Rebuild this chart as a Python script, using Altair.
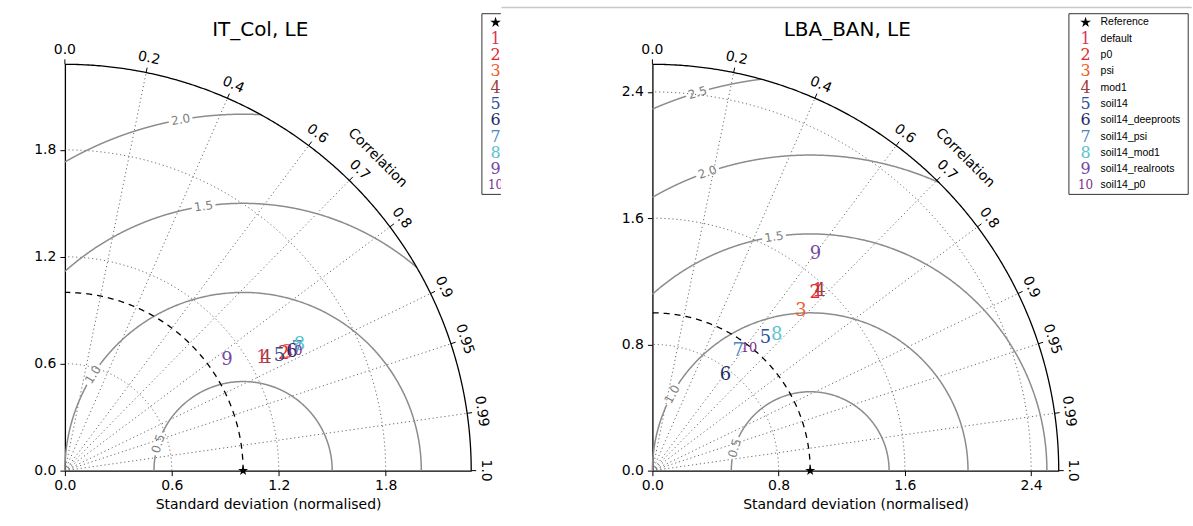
import numpy as np
import pandas as pd
import altair as alt

# ---------------- data ----------------
model_ids = ["1", "2", "3", "4", "5", "6", "7", "8", "9", "10"]
model_names = ["default", "p0", "psi", "mod1", "soil14", "soil14_deeproots",
               "soil14_psi", "soil14_mod1", "soil14_realroots", "soil14_p0"]
model_colors = ["#d7385a", "#e3262b", "#f05a2a", "#a0403c", "#2f4f9f",
                "#1c2a66", "#4a86c5", "#5cc4cc", "#74479f", "#7b2f8d"]

# normalised standard deviation and correlation of each run
itcol_std = [1.272, 1.390, 1.412, 1.292, 1.365, 1.438, 1.472, 1.494, 1.101, 1.452]
itcol_corr = [0.869, 0.883, 0.884, 0.873, 0.882, 0.886, 0.886, 0.881, 0.826, 0.886]
lba_std = [1.550, 1.527, 1.383, 1.556, 1.104, 0.764, 0.934, 1.167, 1.717, 0.991]
lba_corr = [0.677, 0.676, 0.681, 0.683, 0.649, 0.606, 0.583, 0.675, 0.602, 0.617]

corr_ticks = [0.0, 0.2, 0.4, 0.6, 0.7, 0.8, 0.9, 0.95, 0.99, 1.0]
corr_tick_labels = ["0.0", "0.2", "0.4", "0.6", "0.7", "0.8", "0.9", "0.95", "0.99", "1.0"]

itcol_std_ticks = [0.0, 0.6, 1.2, 1.8]
lba_std_ticks = [0.0, 0.8, 1.6, 2.4]
itcol_smax = 2.28
lba_smax = 2.575

itcol_rms_levels = [0.5, 1.0, 1.5, 2.0]
itcol_rms_label_angle = [162.4, 147.4, 98.5, 100.1]
lba_rms_levels = [0.5, 1.0, 1.5, 2.0, 2.5]
lba_rms_label_angle = [163.5, 151.0, 98.8, 109.0, 106.6]

legend_names = ["Reference"] + model_names

# ---------------- layout / style ----------------
VIEW = 407
L_X0, TOP = 64.3, 63.0
R_X0 = 652.8
FONT = "DejaVu Sans"
SERIF = "DejaVu Serif"
LEG_FONT = "Liberation Sans"

# five-pointed star as a custom symbol path (unit box -1..1)
_star_pts = []
for _i in range(10):
    _a = np.radians(-90 + 36 * _i)
    _r = 1.0 if _i % 2 == 0 else 0.382
    _star_pts.append(f"{_r * np.cos(_a):.4f},{_r * np.sin(_a):.4f}")
STAR_PATH = "M" + "L".join(_star_pts) + "Z"


def panel(title, title_cx, smax, std_ticks, std, corr, rms_levels, rms_angles, x0, full_legend):
    k = VIEW / smax  # pixels per unit

    def dx(px):  # page pixel -> data x of this panel
        return (px - x0) / k

    def dy(py):  # page pixel -> data y of this panel
        return (TOP + VIEW - py) / k

    xsc = alt.Scale(domain=[0, smax], nice=False, zero=False)
    ysc = alt.Scale(domain=[0, smax], nice=False, zero=False)
    common = dict(values=std_ticks, format=".1f", grid=False, labelFont=FONT,
                  labelFontSize=14, labelColor="black", tickColor="black",
                  tickSize=5, tickWidth=1, domainColor="black", domainWidth=1.3,
                  labelOverlap=False, labelFlush=False)
    xax = alt.Axis(title="Standard deviation (normalised)", titleFont=FONT,
                   titleFontSize=14, titleFontWeight="normal", titleColor="black",
                   titlePadding=5, labelPadding=3, **common)
    yax = alt.Axis(title=None, labelPadding=4, **common)

    def X(f="x"):
        return alt.X(f"{f}:Q", scale=xsc, axis=xax)

    def Y(f="y"):
        return alt.Y(f"{f}:Q", scale=ysc, axis=yax)

    def arc(g, r, n=300):
        t = np.linspace(0, np.pi / 2, n)
        return pd.DataFrame({"g": g, "o": np.arange(n), "x": r * np.cos(t), "y": r * np.sin(t)})

    def lines(df, color, width, dash=None):
        kw = dict(color=color, strokeWidth=width)
        if dash:
            kw["strokeDash"] = dash
        return alt.Chart(df).mark_line(**kw).encode(x=X(), y=Y(), detail="g:N", order="o:Q")

    def label(xv, yv, text, angle, size, color="black", font=FONT, align="center",
              baseline="middle"):
        d = pd.DataFrame({"x": [float(xv)], "y": [float(yv)], "t": [text]})
        return alt.Chart(d).mark_text(font=font, fontSize=size, color=color, align=align,
                                      baseline=baseline,
                                      angle=round(float(angle) % 360, 3)).encode(
            x=X(), y=Y(), text="t:N")

    def rect(px1, px2, py1, py2, **kw):
        d = pd.DataFrame({"x": [dx(px1)], "x2": [dx(px2)], "y": [dy(py1)], "y2": [dy(py2)]})
        return alt.Chart(d).mark_rect(**kw).encode(
            x=X(), x2=alt.X2("x2"), y=Y(), y2=alt.Y2("y2"))

    L = []
    # ---- page decoration ----
    if full_legend:
        L.append(rect(501.0, 600.0, 0.0, 200.0, color="white", opacity=1))
        gl = pd.DataFrame({"x": [dx(501.7)], "x2": [dx(1193.0)], "y": [dy(6.0)]})
        L.append(alt.Chart(gl).mark_rule(color="#c8c8c8", strokeWidth=1.5).encode(
            x=X(), x2=alt.X2("x2"), y=Y()))
    else:
        L.append(rect(0.0, 1.0, 0.0, 1.0, color="white", opacity=1))

    # ---- grids ----
    grid_parts = [arc(f"s{v}", v) for v in std_ticks if 0 < v < smax]
    for c in corr_ticks:
        if 0 < c < 1:
            s = float(np.sqrt(1 - c * c))
            grid_parts.append(pd.DataFrame({"g": f"c{c}", "o": [0, 1],
                                            "x": [0.0, smax * c], "y": [0.0, smax * s]}))
    L.append(lines(pd.concat(grid_parts, ignore_index=True), "#5a5a5a", 0.9, [1.2, 2.8]))

    # ---- centred RMS difference contours ----
    rms_parts = []
    for R, phd in zip(rms_levels, rms_angles):
        cval = (smax ** 2 - 1 - R ** 2) / (2 * R)
        phmin = 0.0 if cval >= 1 else float(np.arccos(max(-1.0, cval)))
        phmax = float(np.pi) if R <= 1 else float(np.arccos(-1.0 / R))
        ph = float(np.radians(phd))
        half = 12.0 / (R * k)
        for j, (a, b) in enumerate([(phmin, ph - half), (ph + half, phmax)]):
            if b > a:
                t = np.linspace(a, b, 300)
                rms_parts.append(pd.DataFrame({"g": f"r{R}_{j}", "o": np.arange(300),
                                               "x": 1 + R * np.cos(t), "y": R * np.sin(t)}))
        L.append(label(1 + R * np.cos(ph), R * np.sin(ph), f"{R:.1f}", 90 - phd, 12,
                       color="#808080"))
    L.append(lines(pd.concat(rms_parts, ignore_index=True), "#8c8c8c", 1.5))

    # ---- reference arc and outer boundary ----
    L.append(lines(arc("ref", 1.0), "black", 1.3, [6, 5]))
    L.append(lines(arc("outer", smax), "black", 1.3))

    # ---- correlation ticks and labels ----
    th = np.arccos(np.array(corr_ticks))
    r_tick = smax + 5.0 / k
    ticks = pd.DataFrame({"x": smax * np.cos(th), "y": smax * np.sin(th),
                          "x2": r_tick * np.cos(th), "y2": r_tick * np.sin(th)})
    L.append(alt.Chart(ticks).mark_rule(color="black", strokeWidth=1).encode(
        x=X(), y=Y(), x2=alt.X2("x2"), y2=alt.Y2("y2")))
    r_lab = smax + 14.5 / k
    for t_, lab in zip(th, corr_tick_labels):
        L.append(label(r_lab * np.cos(t_), r_lab * np.sin(t_), lab, 90 - np.degrees(t_), 14))
    r_ct = smax + 36.0 / k
    L.append(label(r_ct * np.cos(np.pi / 4), r_ct * np.sin(np.pi / 4), "Correlation", 45, 14))

    # ---- reference star and model runs ----
    star = pd.DataFrame({"x": [1.0], "y": [0.0]})
    L.append(alt.Chart(star).mark_point(shape=STAR_PATH, filled=True, color="black",
                                        size=110, opacity=1).encode(x=X(), y=Y()))
    color_scale = alt.Scale(domain=model_ids, range=model_colors)
    std_a = np.array(std)
    corr_a = np.array(corr)
    pts = pd.DataFrame({"x": std_a * corr_a, "y": std_a * np.sqrt(1 - corr_a ** 2),
                        "id": model_ids})
    for sel, fs in (("length(datum.id) == 1", 18), ("length(datum.id) > 1", 13)):
        L.append(alt.Chart(pts).transform_filter(sel).mark_text(
            font=SERIF, fontSize=fs, align="center", baseline="middle").encode(
            x=X(), y=Y(), text="id:N",
            color=alt.Color("id:N", scale=color_scale, legend=None)))

    # ---- panel title ----
    L.append(label(dx(title_cx), dy(34.5), title, 0, 20, baseline="alphabetic"))

    # ---- legend ----
    if full_legend:
        bx1, bx2, mx = 1070.0, 1189.5, 1086.7
    else:
        bx1, bx2, mx = 482.0, 545.0, 495.7
    L.append(rect(bx1, bx2, 12.3, 193.3, fill="white", stroke="#333333", strokeWidth=1))
    rows_y = [21.0 + i * (184.3 - 21.0) / 10 for i in range(11)]
    leg = pd.DataFrame({"name": legend_names, "id": [""] + model_ids,
                        "x": [dx(mx)] * 11, "lx": [dx(1101.7)] * 11,
                        "y": [dy(v) for v in rows_y]})
    L.append(alt.Chart(leg).transform_filter("datum.id == ''").mark_point(
        shape=STAR_PATH, filled=True, color="black", size=130, opacity=1).encode(x=X(), y=Y()))
    for sel, fs in (("length(datum.id) == 1", 16), ("length(datum.id) > 1", 12)):
        L.append(alt.Chart(leg).transform_filter(sel).mark_text(
            font=SERIF, fontSize=fs, align="center", baseline="middle").encode(
            x=X(), y=Y(), text="id:N",
            color=alt.Color("id:N", scale=color_scale, legend=None)))
    if full_legend:
        L.append(alt.Chart(leg).mark_text(font=LEG_FONT, fontSize=10.5, color="black",
                                          align="left", baseline="middle").encode(
            x=X("lx"), y=Y(), text="name:N"))

    return alt.layer(*L).properties(width=VIEW, height=VIEW)


left = panel("IT_Col, LE", 260.0, itcol_smax, itcol_std_ticks, itcol_std, itcol_corr,
             itcol_rms_levels, itcol_rms_label_angle, L_X0, False)
right = panel("LBA_BAN, LE", 848.0, lba_smax, lba_std_ticks, lba_std, lba_corr,
              lba_rms_levels, lba_rms_label_angle, R_X0, True)

chart = alt.hconcat(left, right, spacing=R_X0 - L_X0 - VIEW, bounds="flush").properties(
    padding=0).configure_view(stroke=None)

chart.save("out.html", embed_options={"renderer": "svg", "actions": False})
